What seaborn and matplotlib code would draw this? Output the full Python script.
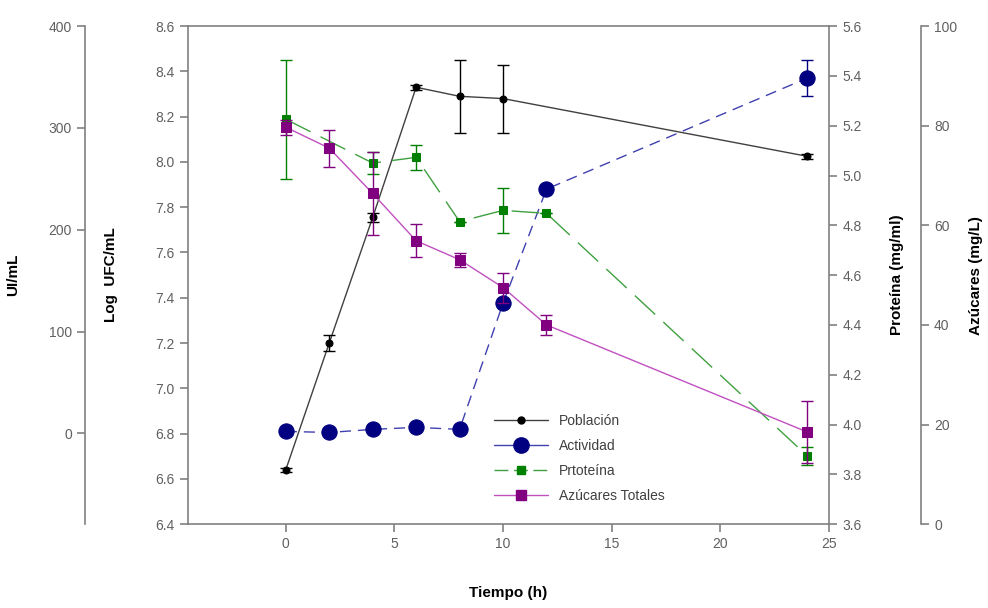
# IMPORT LIBRARIES
import numpy as np
import seaborn as sns
import matplotlib
matplotlib.use('Agg')
import matplotlib.pyplot as plt
from matplotlib.lines import Line2D

# DATA
tiempo_pob = [0, 2, 4, 6, 8, 10, 24]
poblacion = [6.64, 7.20, 7.755, 8.33, 8.29, 8.28, 8.025]
poblacion_err = [0.01, 0.035, 0.02, 0.01, 0.16, 0.15, 0.01]

tiempo_act = [0, 2, 4, 6, 8, 10, 12, 24]
actividad = [2, 1, 4, 6, 4, 128, 240, 349]
actividad_err = [0, 0, 0, 0, 0, 0, 0, 18]

tiempo_prot = [0, 4, 6, 8, 10, 12, 24]
proteina = [5.226, 5.05, 5.073, 4.815, 4.86, 4.848, 3.874]
proteina_err = [0.24, 0.045, 0.05, 0.0, 0.09, 0.0, 0.035]

tiempo_azu = [0, 2, 4, 6, 8, 10, 12, 24]
azucares = [79.7, 75.5, 66.4, 56.9, 53.1, 47.5, 40.0, 18.5]
azucares_err = [1.5, 3.7, 8.3, 3.3, 1.4, 3.0, 2.0, 6.3]

x_ticks = [0, 5, 10, 15, 20, 25]

# STYLE
sns.set_style('white')
plt.rcParams['font.family'] = ['Liberation Sans', 'DejaVu Sans']
spine_col = '#808080'
tick_col = '#606060'

fig = plt.figure(figsize=(9.88, 6.08), dpi=100)
ax = fig.add_axes([0.1903, 0.138, 0.6487, 0.819])
ax_ui = ax.twinx()
ax_prot = ax.twinx()
ax_azu = ax.twinx()

# POBLACION (Log UFC/mL)
sns.lineplot(x=tiempo_pob, y=poblacion, ax=ax, color='#404040', linewidth=1,
             marker='o', markersize=5, mfc='black', mec='black', zorder=4)
ax.errorbar(tiempo_pob, poblacion, yerr=poblacion_err, fmt='none', ecolor='black',
            elinewidth=1, capsize=4, zorder=4)

# ACTIVIDAD (UI/mL)
sns.lineplot(x=tiempo_act, y=actividad, ax=ax_ui, color='#4040b0', linewidth=1,
             marker='o', markersize=11, mfc='#000080', mec='#000080', zorder=3)
ax_ui.lines[-1].set_dashes([8, 5])
ax_ui.errorbar(tiempo_act, actividad, yerr=actividad_err, fmt='none', ecolor='#000080',
               elinewidth=1, capsize=4, zorder=3)

# PROTEINA (mg/ml)
sns.lineplot(x=tiempo_prot, y=proteina, ax=ax_prot, color='#40a040', linewidth=1,
             marker='s', markersize=6, mfc='#008000', mec='#008000', zorder=3)
ax_prot.lines[-1].set_dashes([20, 8])
ax_prot.errorbar(tiempo_prot, proteina, yerr=proteina_err, fmt='none', ecolor='#008000',
                 elinewidth=1, capsize=4, zorder=3)

# AZUCARES (mg/L)
sns.lineplot(x=tiempo_azu, y=azucares, ax=ax_azu, color='#c050c0', linewidth=1,
             marker='s', markersize=6.5, mfc='#800080', mec='#800080', zorder=3)
ax_azu.errorbar(tiempo_azu, azucares, yerr=azucares_err, fmt='none', ecolor='#800080',
                elinewidth=1, capsize=4, zorder=3)

# AXES LIMITS AND TICKS
ax.set_xlim(-4.5, 25)
ax.set_xticks(x_ticks)
ax.set_ylim(6.4, 8.6)
ax.set_yticks(np.arange(6.4, 8.61, 0.2))
ax.yaxis.set_major_formatter(matplotlib.ticker.FormatStrFormatter('%.1f'))

ax_ui.set_ylim(-89, 400)
ax_ui.set_yticks([0, 100, 200, 300, 400])
ax_prot.set_ylim(3.6, 5.6)
ax_prot.set_yticks(np.arange(3.6, 5.61, 0.2))
ax_prot.yaxis.set_major_formatter(matplotlib.ticker.FormatStrFormatter('%.1f'))
ax_azu.set_ylim(0, 100)
ax_azu.set_yticks([0, 20, 40, 60, 80, 100])

# SPINES
for a in [ax, ax_ui, ax_prot, ax_azu]:
    for s in a.spines.values():
        s.set_color(spine_col)
        s.set_linewidth(1.2)
    a.tick_params(colors=spine_col, labelcolor=tick_col, labelsize=10,
                  length=6, width=1.2, direction='out')
    a.set_facecolor('none')

ax.spines['right'].set_visible(False)
ax.yaxis.set_ticks_position('left')
ax.xaxis.set_ticks_position('bottom')

ax_ui.yaxis.set_ticks_position('left')
ax_ui.yaxis.set_label_position('left')
ax_ui.spines['left'].set_position(('axes', -0.1607))
for s in ['right', 'top', 'bottom']:
    ax_ui.spines[s].set_visible(False)

for s in ['left', 'top', 'bottom']:
    ax_prot.spines[s].set_visible(False)

ax_azu.spines['right'].set_position(('axes', 1.1435))
for s in ['left', 'top', 'bottom']:
    ax_azu.spines[s].set_visible(False)

# LABELS
lab = dict(fontsize=11, fontweight='bold', color='black')
ax.set_xlabel('Tiempo (h)', **lab)
ax.xaxis.set_label_coords(0.5, -0.125)
ax.set_ylabel('Log  UFC/mL', **lab)
ax.yaxis.set_label_coords(-0.109, 0.5)
ax_ui.set_ylabel('UI/mL', **lab)
ax_ui.yaxis.set_label_coords(-0.262, 0.5)
ax_prot.set_ylabel('Proteína (mg/ml)', **lab)
ax_prot.yaxis.set_label_coords(1.095, 0.5)
ax_azu.set_ylabel('Azúcares (mg/L)', **lab)
ax_azu.yaxis.set_label_coords(1.219, 0.5)

# LEGEND
h_pob = Line2D([], [], color='#404040', lw=1, marker='o', ms=5, mfc='black', mec='black')
h_act = Line2D([], [], color='#4040b0', lw=1, marker='o', ms=11, mfc='#000080', mec='#000080')
h_prot = Line2D([], [], color='#40a040', lw=1, ls=(0, (10, 4)), marker='s', ms=6,
                mfc='#008000', mec='#008000')
h_azu = Line2D([], [], color='#c050c0', lw=1, marker='s', ms=6.5, mfc='#800080', mec='#800080')
ax_azu.legend([h_pob, h_act, h_prot, h_azu],
              ['Población', 'Actividad', 'Prtoteína', 'Azúcares Totales'],
              loc='upper left', bbox_to_anchor=(0.468, 0.232), frameon=False,
              fontsize=10, labelcolor='#404040', handlelength=3.9,
              handletextpad=0.8, labelspacing=0.78, borderaxespad=0)

plt.savefig('out.png', dpi=100)
plt.close()
